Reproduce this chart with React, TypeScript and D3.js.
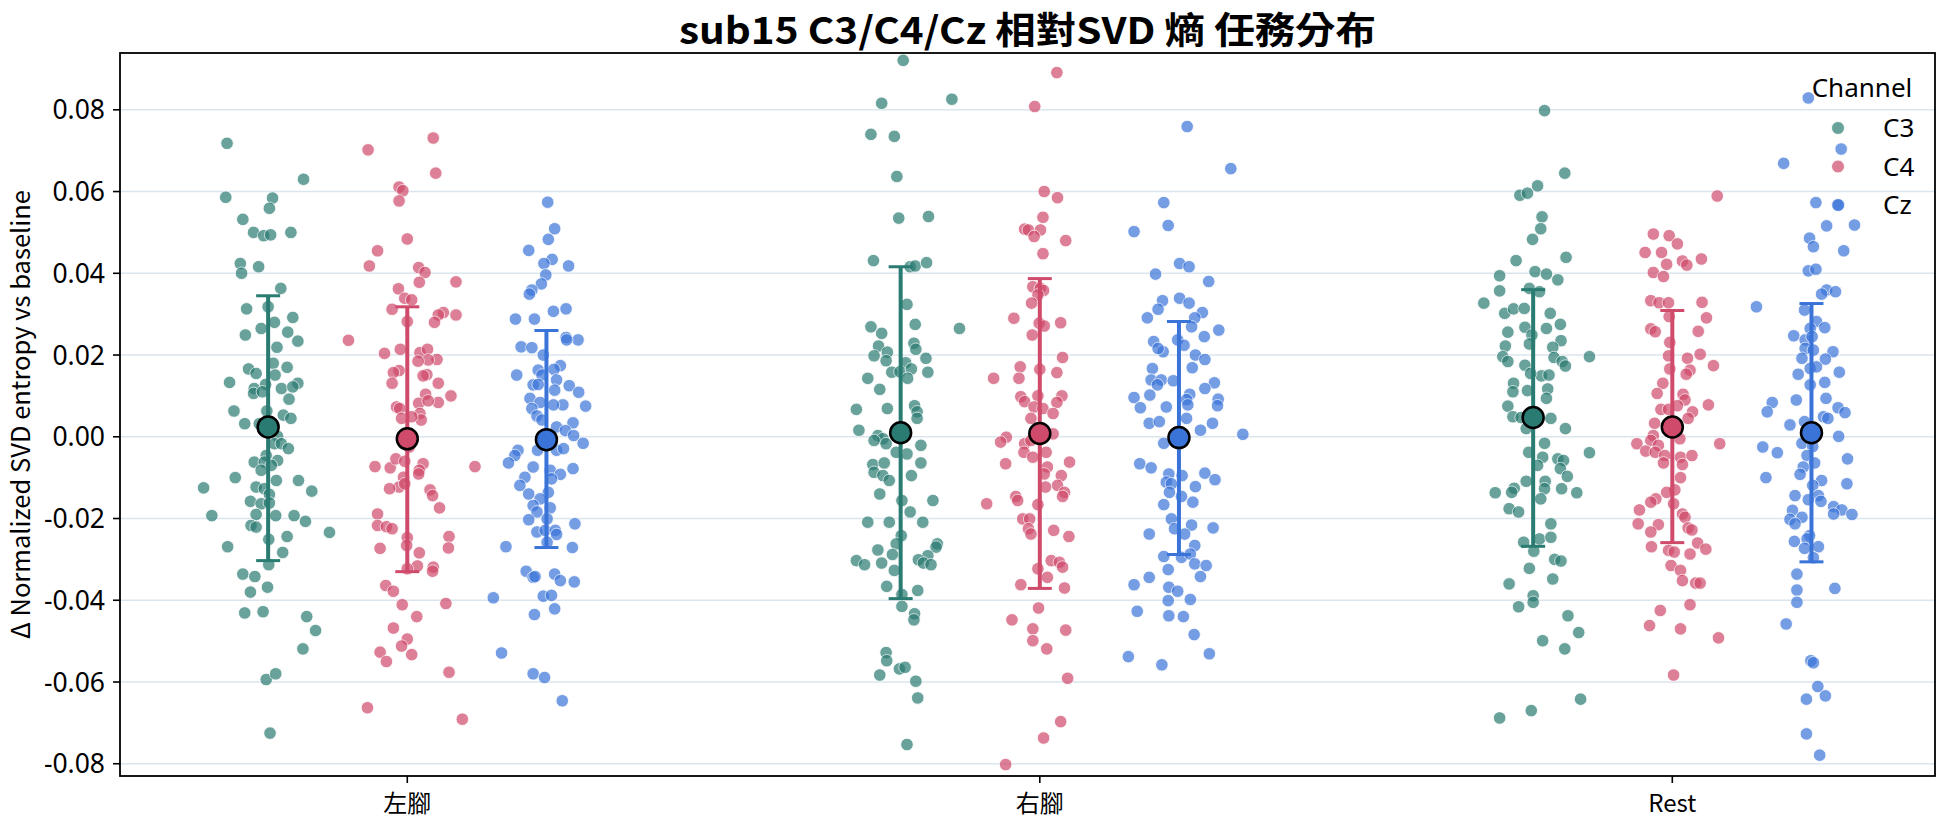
import React from "react";
import * as d3 from "d3";

const categories = ["左腳", "右腳", "Rest"];
const channels = ["C3", "C4", "Cz"];
const yTicks = [-0.08, -0.06, -0.04, -0.02, 0, 0.02, 0.04, 0.06, 0.08];
const titleText = "sub15 C3/C4/Cz 相對SVD 熵 任務分布";
const yLabel = "Δ Normalized SVD entropy vs baseline";
const legendTitle = "Channel";

// [jitter (category units), value]
const leftC3: [number, number][] = [[-0.065,0.0718],[0.056,0.0630],[-0.067,0.0586],[0.007,0.0584],[0.002,0.0559],[-0.040,0.0532],[-0.023,0.0500],[-0.007,0.0492],[0.004,0.0494],[0.036,0.0500],[-0.044,0.0424],[-0.015,0.0416],[-0.042,0.0400],[0.020,0.0363],[-0.034,0.0313],[0.000,0.0318],[0.039,0.0292],[0.010,0.0280],[-0.011,0.0265],[0.031,0.0256],[-0.036,0.0249],[0.047,0.0234],[0.014,0.0219],[0.008,0.0180],[-0.031,0.0166],[-0.019,0.0155],[0.030,0.0170],[0.011,0.0151],[-0.061,0.0133],[-0.004,0.0128],[-0.022,0.0118],[0.021,0.0118],[0.047,0.0131],[0.039,0.0122],[-0.023,0.0106],[-0.009,0.0110],[0.033,0.0092],[-0.054,0.0063],[-0.002,0.0063],[0.024,0.0053],[0.036,0.0045],[-0.037,0.0032],[-0.014,0.0032],[0.015,0.0001],[0.010,-0.0017],[0.021,-0.0017],[0.032,-0.0029],[-0.003,-0.0046],[-0.022,-0.0062],[-0.006,-0.0062],[0.015,-0.0058],[0.005,-0.0070],[-0.011,-0.0082],[-0.052,-0.0100],[0.013,-0.0107],[0.048,-0.0107],[-0.102,-0.0125],[-0.019,-0.0123],[-0.006,-0.0127],[0.069,-0.0133],[0.002,-0.0141],[-0.028,-0.0158],[-0.011,-0.0164],[0.002,-0.0162],[-0.089,-0.0193],[-0.019,-0.0190],[0.012,-0.0193],[0.041,-0.0193],[0.059,-0.0207],[-0.027,-0.0217],[-0.019,-0.0221],[0.097,-0.0234],[0.001,-0.0251],[0.030,-0.0244],[-0.064,-0.0269],[0.023,-0.0283],[0.001,-0.0313],[-0.040,-0.0336],[-0.021,-0.0342],[-0.001,-0.0368],[-0.028,-0.0380],[-0.037,-0.0431],[-0.008,-0.0428],[0.061,-0.0440],[0.075,-0.0474],[0.055,-0.0519],[-0.003,-0.0594],[0.012,-0.0580],[0.003,-0.0725]];
const leftC4: [number, number][] = [[-0.062,0.0702],[0.041,0.0731],[0.045,0.0645],[-0.013,0.0611],[-0.007,0.0602],[-0.013,0.0577],[0.000,0.0484],[-0.047,0.0455],[-0.060,0.0418],[0.018,0.0414],[0.028,0.0402],[0.077,0.0379],[0.019,0.0378],[-0.014,0.0362],[-0.004,0.0339],[0.007,0.0335],[-0.024,0.0312],[0.057,0.0304],[0.049,0.0298],[0.043,0.0280],[0.077,0.0298],[0.000,0.0282],[-0.093,0.0236],[-0.036,0.0204],[-0.011,0.0214],[0.020,0.0206],[0.032,0.0214],[0.047,0.0189],[0.033,0.0188],[0.017,0.0185],[-0.013,0.0162],[-0.022,0.0157],[0.031,0.0152],[0.025,0.0149],[-0.024,0.0131],[0.049,0.0131],[0.069,0.0100],[0.029,0.0104],[0.018,0.0082],[0.049,0.0084],[-0.017,0.0073],[-0.012,0.0069],[0.033,0.0088],[0.020,0.0057],[0.022,0.0041],[-0.009,0.0045],[0.007,0.0049],[0.003,-0.0025],[-0.051,-0.0073],[-0.027,-0.0076],[-0.018,-0.0054],[-0.004,-0.0060],[0.025,-0.0066],[0.019,-0.0082],[0.018,-0.0091],[-0.006,-0.0099],[-0.013,-0.0123],[-0.028,-0.0127],[-0.004,-0.0115],[0.036,-0.0130],[0.040,-0.0144],[0.051,-0.0174],[-0.047,-0.0189],[-0.047,-0.0217],[-0.033,-0.0220],[-0.024,-0.0225],[0.000,-0.0247],[-0.001,-0.0266],[0.066,-0.0244],[0.065,-0.0272],[-0.043,-0.0273],[0.019,-0.0284],[0.041,-0.0319],[0.040,-0.0329],[0.016,-0.0316],[0.000,-0.0323],[-0.034,-0.0364],[-0.022,-0.0378],[0.061,-0.0408],[-0.008,-0.0411],[0.015,-0.0440],[-0.022,-0.0468],[0.000,-0.0495],[-0.009,-0.0512],[0.007,-0.0533],[-0.043,-0.0527],[-0.033,-0.0550],[0.066,-0.0576],[-0.063,-0.0663],[0.087,-0.0691],[0.107,-0.0073]];
const leftCz: [number, number][] = [[0.002,0.0574],[0.013,0.0509],[0.003,0.0483],[-0.028,0.0456],[0.009,0.0434],[-0.004,0.0424],[0.035,0.0418],[-0.001,0.0396],[-0.008,0.0374],[-0.023,0.0359],[-0.027,0.0349],[0.011,0.0307],[0.031,0.0313],[-0.049,0.0288],[-0.019,0.0288],[0.031,0.0243],[0.050,0.0237],[0.032,0.0237],[-0.040,0.0220],[-0.023,0.0218],[-0.005,0.0200],[0.022,0.0174],[0.012,0.0165],[-0.013,0.0163],[-0.007,0.0151],[-0.047,0.0151],[0.016,0.0139],[0.036,0.0125],[0.051,0.0109],[-0.021,0.0127],[-0.013,0.0128],[0.013,0.0114],[0.062,0.0075],[0.026,0.0078],[-0.026,0.0094],[-0.010,0.0084],[0.011,0.0078],[-0.023,0.0069],[-0.015,0.0051],[-0.007,0.0041],[0.016,0.0024],[0.042,0.0034],[0.030,0.0015],[0.043,0.0003],[0.058,-0.0016],[-0.014,-0.0033],[0.016,-0.0033],[0.027,-0.0029],[-0.045,-0.0033],[-0.050,-0.0046],[-0.060,-0.0064],[-0.021,-0.0074],[0.042,-0.0078],[0.006,-0.0082],[0.022,-0.0092],[0.008,-0.0103],[-0.034,-0.0099],[-0.042,-0.0119],[-0.028,-0.0140],[0.003,-0.0136],[-0.010,-0.0152],[0.006,-0.0174],[-0.021,-0.0168],[-0.015,-0.0184],[-0.028,-0.0203],[0.001,-0.0201],[0.045,-0.0213],[-0.015,-0.0233],[-0.002,-0.0229],[0.014,-0.0229],[0.016,-0.0239],[0.001,-0.0258],[-0.064,-0.0269],[0.041,-0.0271],[-0.032,-0.0329],[-0.021,-0.0344],[-0.018,-0.0342],[0.013,-0.0336],[0.022,-0.0352],[0.044,-0.0355],[-0.084,-0.0394],[-0.005,-0.0390],[0.008,-0.0388],[0.013,-0.0421],[-0.019,-0.0435],[-0.071,-0.0529],[-0.021,-0.0580],[-0.003,-0.0589],[0.025,-0.0646]];
const rightC3: [number, number][] = [[0.004,0.0921],[-0.030,0.0816],[0.081,0.0826],[-0.047,0.0740],[-0.010,0.0735],[-0.006,0.0637],[-0.003,0.0535],[0.044,0.0539],[-0.043,0.0431],[0.015,0.0416],[0.023,0.0418],[0.041,0.0426],[0.010,0.0324],[-0.047,0.0269],[0.023,0.0275],[-0.030,0.0253],[0.093,0.0265],[-0.035,0.0222],[0.021,0.0229],[0.024,0.0214],[-0.021,0.0207],[-0.042,0.0198],[-0.023,0.0186],[0.040,0.0192],[0.008,0.0181],[-0.014,0.0158],[-0.001,0.0159],[0.017,0.0166],[0.043,0.0158],[-0.052,0.0143],[0.011,0.0143],[-0.033,0.0116],[-0.070,0.0067],[-0.021,0.0069],[0.022,0.0076],[0.026,0.0061],[0.026,0.0045],[-0.066,0.0016],[-0.036,0.0003],[-0.028,-0.0005],[-0.042,-0.0009],[-0.023,-0.0017],[0.032,-0.0021],[0.010,-0.0042],[-0.007,-0.0038],[-0.044,-0.0068],[-0.026,-0.0064],[0.032,-0.0064],[-0.042,-0.0087],[-0.028,-0.0095],[-0.018,-0.0107],[0.017,-0.0095],[-0.033,-0.0140],[0.002,-0.0156],[0.051,-0.0156],[0.015,-0.0184],[-0.052,-0.0209],[-0.018,-0.0209],[0.035,-0.0209],[0.001,-0.0242],[-0.007,-0.0262],[-0.036,-0.0277],[0.058,-0.0262],[0.056,-0.0270],[-0.013,-0.0288],[-0.070,-0.0303],[-0.057,-0.0313],[-0.030,-0.0309],[0.043,-0.0291],[0.028,-0.0301],[0.036,-0.0309],[0.048,-0.0313],[-0.010,-0.0327],[-0.022,-0.0366],[0.027,-0.0376],[0.002,-0.0386],[0.002,-0.0415],[0.022,-0.0433],[0.021,-0.0448],[-0.023,-0.0528],[-0.022,-0.0548],[-0.002,-0.0568],[0.007,-0.0564],[-0.033,-0.0583],[0.024,-0.0598],[0.027,-0.0639],[0.010,-0.0753]];
const rightC4: [number, number][] = [[0.027,0.0891],[-0.008,0.0808],[0.007,0.0600],[0.028,0.0585],[0.005,0.0537],[-0.024,0.0508],[-0.018,0.0506],[0.001,0.0506],[-0.009,0.0490],[0.041,0.0480],[0.005,0.0448],[-0.011,0.0367],[0.001,0.0363],[0.006,0.0358],[-0.003,0.0347],[-0.013,0.0327],[-0.041,0.0290],[-0.001,0.0278],[0.007,0.0271],[0.033,0.0279],[-0.012,0.0249],[0.036,0.0194],[-0.031,0.0171],[0.000,0.0165],[0.027,0.0157],[-0.073,0.0143],[-0.033,0.0143],[-0.030,0.0098],[-0.003,0.0100],[0.035,0.0100],[-0.024,0.0086],[0.027,0.0084],[-0.009,0.0073],[0.005,0.0069],[0.021,0.0057],[-0.014,0.0045],[-0.053,-0.0001],[-0.062,-0.0013],[-0.024,-0.0017],[-0.025,-0.0038],[-0.011,-0.0050],[0.010,-0.0038],[-0.014,-0.0009],[0.021,0.0007],[-0.054,-0.0066],[0.012,-0.0074],[0.007,-0.0091],[0.034,-0.0095],[0.028,-0.0119],[0.047,-0.0062],[0.009,-0.0123],[0.039,-0.0136],[0.036,-0.0146],[-0.038,-0.0146],[-0.035,-0.0156],[-0.003,-0.0166],[-0.084,-0.0164],[-0.027,-0.0201],[-0.016,-0.0201],[-0.018,-0.0225],[-0.014,-0.0238],[0.022,-0.0229],[0.046,-0.0244],[0.018,-0.0303],[0.031,-0.0307],[-0.003,-0.0323],[0.036,-0.0319],[0.012,-0.0344],[-0.030,-0.0362],[0.039,-0.0370],[-0.002,-0.0419],[-0.044,-0.0448],[-0.011,-0.0470],[0.041,-0.0473],[-0.011,-0.0499],[0.011,-0.0519],[0.044,-0.0591],[0.033,-0.0697],[0.006,-0.0737],[-0.054,-0.0802]];
const rightCz: [number, number][] = [[0.013,0.0759],[0.082,0.0656],[-0.024,0.0573],[-0.017,0.0517],[-0.071,0.0502],[0.001,0.0424],[0.016,0.0416],[-0.037,0.0398],[0.047,0.0380],[-0.026,0.0333],[-0.033,0.0312],[0.001,0.0339],[0.016,0.0327],[-0.050,0.0291],[0.037,0.0304],[0.025,0.0291],[0.020,0.0269],[0.063,0.0261],[0.040,0.0245],[-0.040,0.0233],[-0.002,0.0237],[0.008,0.0224],[-0.025,0.0208],[-0.033,0.0216],[0.026,0.0200],[0.041,0.0189],[0.021,0.0169],[-0.042,0.0167],[-0.044,0.0139],[-0.028,0.0139],[-0.009,0.0137],[-0.034,0.0127],[0.056,0.0132],[0.041,0.0118],[0.062,0.0092],[0.061,0.0076],[-0.071,0.0096],[-0.046,0.0102],[0.017,0.0104],[0.012,0.0091],[-0.061,0.0071],[-0.020,0.0073],[0.014,0.0078],[0.012,0.0045],[-0.047,0.0033],[-0.031,0.0037],[0.053,0.0033],[0.034,0.0016],[0.101,0.0006],[-0.024,-0.0016],[-0.062,-0.0066],[-0.044,-0.0076],[-0.016,-0.0091],[0.005,-0.0095],[0.041,-0.0089],[0.057,-0.0105],[-0.020,-0.0111],[-0.012,-0.0115],[-0.015,-0.0136],[0.004,-0.0146],[0.026,-0.0122],[0.022,-0.0160],[-0.024,-0.0166],[-0.012,-0.0201],[-0.007,-0.0225],[0.020,-0.0216],[0.054,-0.0223],[-0.047,-0.0238],[0.009,-0.0238],[0.025,-0.0266],[-0.024,-0.0293],[0.004,-0.0295],[0.018,-0.0287],[0.025,-0.0311],[0.043,-0.0315],[-0.017,-0.0325],[0.034,-0.0342],[-0.071,-0.0362],[-0.047,-0.0344],[-0.016,-0.0368],[-0.002,-0.0378],[0.018,-0.0398],[-0.017,-0.0401],[-0.066,-0.0427],[-0.016,-0.0438],[0.007,-0.0440],[0.024,-0.0484],[-0.080,-0.0538],[-0.027,-0.0558],[0.048,-0.0531]];
const restC3: [number, number][] = [[0.018,0.0798],[0.050,0.0645],[0.007,0.0614],[-0.021,0.0591],[-0.009,0.0596],[0.014,0.0538],[0.012,0.0509],[-0.001,0.0483],[0.052,0.0439],[-0.027,0.0431],[0.003,0.0404],[0.021,0.0398],[-0.053,0.0394],[0.039,0.0384],[-0.053,0.0357],[-0.006,0.0363],[0.010,0.0355],[-0.078,0.0327],[-0.045,0.0302],[-0.031,0.0313],[-0.014,0.0314],[0.027,0.0302],[0.043,0.0275],[-0.040,0.0256],[-0.013,0.0268],[0.021,0.0265],[-0.002,0.0249],[0.044,0.0235],[-0.044,0.0222],[-0.006,0.0227],[0.031,0.0219],[-0.048,0.0196],[-0.040,0.0184],[0.033,0.0194],[0.046,0.0184],[0.051,0.0173],[0.089,0.0196],[-0.013,0.0175],[0.013,0.0149],[0.025,0.0151],[-0.004,0.0155],[-0.031,0.0131],[-0.032,0.0110],[-0.009,0.0113],[0.023,0.0117],[0.021,0.0094],[-0.040,0.0075],[-0.032,0.0049],[-0.019,0.0047],[0.028,0.0045],[0.051,0.0020],[-0.011,0.0020],[0.018,-0.0016],[-0.007,-0.0038],[0.089,-0.0039],[0.015,-0.0050],[0.039,-0.0054],[0.048,-0.0058],[0.007,-0.0070],[0.043,-0.0078],[0.054,-0.0097],[-0.011,-0.0109],[0.019,-0.0109],[0.018,-0.0127],[-0.030,-0.0126],[-0.034,-0.0136],[-0.060,-0.0137],[0.045,-0.0127],[0.069,-0.0137],[0.012,-0.0152],[-0.038,-0.0176],[-0.023,-0.0184],[0.028,-0.0213],[0.010,-0.0250],[0.028,-0.0246],[-0.015,-0.0258],[0.001,-0.0280],[0.034,-0.0300],[0.044,-0.0304],[-0.006,-0.0322],[0.031,-0.0348],[-0.038,-0.0360],[0.000,-0.0389],[0.000,-0.0405],[-0.023,-0.0416],[0.055,-0.0438],[0.072,-0.0479],[0.015,-0.0499],[0.050,-0.0519],[0.075,-0.0642],[-0.003,-0.0670],[-0.053,-0.0688]];
const restC4: [number, number][] = [[0.071,0.0589],[-0.030,0.0496],[-0.005,0.0492],[0.008,0.0472],[-0.043,0.0451],[-0.017,0.0451],[0.046,0.0435],[0.016,0.0430],[0.023,0.0420],[-0.009,0.0422],[-0.030,0.0402],[-0.014,0.0392],[-0.034,0.0333],[-0.021,0.0328],[-0.006,0.0328],[0.047,0.0329],[-0.005,0.0294],[0.054,0.0291],[-0.034,0.0264],[-0.027,0.0257],[0.041,0.0258],[-0.004,0.0231],[0.044,0.0202],[-0.006,0.0198],[0.024,0.0192],[0.065,0.0174],[-0.004,0.0166],[0.028,0.0163],[0.022,0.0153],[-0.015,0.0131],[-0.024,0.0106],[0.017,0.0104],[0.020,0.0090],[0.057,0.0078],[-0.018,0.0067],[-0.006,0.0067],[0.008,0.0076],[0.032,0.0061],[0.025,0.0045],[-0.028,0.0033],[-0.030,0.0003],[-0.034,-0.0009],[-0.056,-0.0017],[-0.022,-0.0021],[0.012,-0.0005],[-0.042,-0.0035],[-0.027,-0.0038],[-0.012,-0.0046],[0.013,-0.0050],[0.031,-0.0046],[-0.014,-0.0064],[0.016,-0.0068],[0.013,-0.0100],[0.004,-0.0130],[-0.009,-0.0136],[-0.026,-0.0152],[-0.034,-0.0160],[0.002,-0.0164],[-0.052,-0.0179],[0.016,-0.0189],[0.020,-0.0197],[-0.054,-0.0213],[-0.022,-0.0215],[-0.034,-0.0233],[0.025,-0.0223],[0.031,-0.0228],[0.040,-0.0260],[0.053,-0.0275],[-0.033,-0.0269],[-0.006,-0.0278],[0.003,-0.0282],[0.028,-0.0287],[-0.002,-0.0315],[0.013,-0.0327],[0.016,-0.0352],[0.037,-0.0358],[0.044,-0.0358],[0.028,-0.0411],[-0.019,-0.0425],[-0.036,-0.0462],[0.013,-0.0470],[0.073,-0.0492],[0.002,-0.0583],[0.075,-0.0017]];
const restCz: [number, number][] = [[-0.005,0.0829],[-0.044,0.0669],[0.047,0.0704],[0.007,0.0573],[0.043,0.0567],[0.024,0.0516],[0.068,0.0518],[-0.003,0.0486],[0.003,0.0465],[0.051,0.0455],[-0.005,0.0406],[0.007,0.0410],[0.024,0.0359],[0.016,0.0349],[0.038,0.0355],[-0.087,0.0318],[-0.011,0.0310],[0.008,0.0282],[0.021,0.0267],[-0.028,0.0247],[-0.002,0.0265],[-0.010,0.0237],[0.001,0.0245],[0.034,0.0208],[-0.010,0.0216],[0.003,0.0212],[0.022,0.0190],[-0.015,0.0192],[-0.021,0.0153],[-0.002,0.0167],[0.008,0.0171],[0.044,0.0158],[0.021,0.0133],[-0.002,0.0127],[0.023,0.0094],[-0.024,0.0090],[-0.062,0.0084],[-0.070,0.0061],[0.042,0.0071],[0.053,0.0059],[0.019,0.0049],[-0.034,0.0029],[-0.011,0.0037],[0.026,0.0045],[0.043,0.0001],[-0.015,-0.0016],[0.002,-0.0024],[-0.077,-0.0025],[-0.054,-0.0039],[0.057,-0.0054],[-0.007,-0.0046],[0.005,-0.0064],[-0.013,-0.0074],[-0.018,-0.0092],[-0.072,-0.0100],[0.016,-0.0107],[0.002,-0.0119],[0.056,-0.0115],[-0.026,-0.0144],[0.011,-0.0144],[-0.005,-0.0154],[0.015,-0.0158],[0.035,-0.0171],[0.048,-0.0179],[0.064,-0.0190],[0.035,-0.0189],[-0.030,-0.0180],[-0.034,-0.0202],[-0.015,-0.0197],[-0.026,-0.0213],[-0.003,-0.0242],[-0.027,-0.0256],[-0.007,-0.0250],[0.011,-0.0269],[-0.011,-0.0273],[0.003,-0.0296],[-0.023,-0.0336],[0.037,-0.0371],[-0.023,-0.0375],[-0.023,-0.0405],[-0.040,-0.0458],[-0.001,-0.0548],[0.003,-0.0553],[0.010,-0.0611],[0.022,-0.0634],[-0.008,-0.0642],[-0.008,-0.0727],[0.013,-0.0779]];

const stripsByCategory = [
  [leftC3, leftC4, leftCz],
  [rightC3, rightC4, rightCz],
  [restC3, restC4, restCz],
];

// mean and error-bar ends per category, channel order C3, C4, Cz
const meanLeft = [0.0024, -0.0005, -0.0007];
const lowLeft = [-0.0303, -0.0330, -0.0271];
const highLeft = [0.0345, 0.0318, 0.0260];
const meanRight = [0.0010, 0.0008, -0.0002];
const lowRight = [-0.0396, -0.0371, -0.0288];
const highRight = [0.0416, 0.0387, 0.0282];
const meanRest = [0.0047, 0.0024, 0.0010];
const lowRest = [-0.0268, -0.0259, -0.0306];
const highRest = [0.0360, 0.0309, 0.0326];
const meansByCategory = [meanLeft, meanRight, meanRest];
const lowsByCategory = [lowLeft, lowRight, lowRest];
const highsByCategory = [highLeft, highRight, highRest];

const channelColors = ["#2a7b72", "#cf4a6b", "#3a74d9"];
const dodge = [-0.22, 0, 0.22];

const W = 1944;
const H = 827;
const plotL = 120;
const plotR = 1935;
const plotT = 53;
const plotB = 776;

const FONT = "'Noto Sans', 'Noto Sans CJK TC', sans-serif";
const CJK = "'Noto Sans CJK TC', 'Noto Sans', sans-serif";

export default function App() {
  const x = d3.scaleLinear().domain([-0.4542, 2.4153]).range([plotL, plotR]);
  const y = d3.scaleLinear().domain([-0.0830, 0.0939]).range([plotB, plotT]);
  const fmt = (t: number) => d3.format(".2f")(t).replace("\u2212", "-");

  return (
    <svg
      width={W}
      height={H}
      viewBox={`0 0 ${W} ${H}`}
      style={{ position: "absolute", left: 0, top: 0, display: "block", background: "#fff" }}
    >
      <rect x={0} y={0} width={W} height={H} fill="#fff" />
      <text
        x={(plotL + plotR) / 2}
        y={44}
        textAnchor="middle"
        fontFamily={CJK}
        fontWeight="bold"
        fontSize={37}
        fill="#000"
        textLength={697}
        lengthAdjust="spacingAndGlyphs"
      >
        {titleText}
      </text>

      {/* gridlines */}
      <g>
        {yTicks.map((t) => (
          <line key={t} x1={plotL} x2={plotR} y1={y(t)} y2={y(t)} stroke="#dbe5ee" strokeWidth={1.6} />
        ))}
      </g>

      {/* strips */}
      {stripsByCategory.map((strips, ci) =>
        strips.map((pts, hi) => (
          <g key={`s${ci}-${hi}`}>
            {pts.map(([j, v], k) => (
              <circle
                key={k}
                cx={x(ci + dodge[hi] + j)}
                cy={y(v)}
                r={6.3}
                fill={channelColors[hi]}
                stroke="#fff"
                strokeWidth={0.9}
                opacity={0.7}
              />
            ))}
          </g>
        ))
      )}

      {/* error bars + means */}
      {categories.map((_, ci) =>
        channels.map((_, hi) => {
          const cx = x(ci + dodge[hi]);
          const lo = lowsByCategory[ci][hi];
          const hiV = highsByCategory[ci][hi];
          const m = meansByCategory[ci][hi];
          const col = channelColors[hi];
          return (
            <g key={`e${ci}-${hi}`}>
              <line x1={cx} x2={cx} y1={y(lo)} y2={y(hiV)} stroke={col} strokeWidth={4} />
              <line x1={cx - 12} x2={cx + 12} y1={y(lo)} y2={y(lo)} stroke={col} strokeWidth={3} />
              <line x1={cx - 12} x2={cx + 12} y1={y(hiV)} y2={y(hiV)} stroke={col} strokeWidth={3} />
              <circle cx={cx} cy={y(m)} r={10.5} fill={col} stroke="#000" strokeWidth={2.5} />
            </g>
          );
        })
      )}

      {/* y axis */}
      <g>
        {yTicks.map((t) => (
          <g key={t}>
            <line x1={plotL - 7} x2={plotL} y1={y(t)} y2={y(t)} stroke="#000" strokeWidth={1.6} />
            <text
              x={plotL - 15}
              y={y(t)}
              dy="0.36em"
              textAnchor="end"
              fontFamily={FONT}
              fontSize={26.5}
              fill="#000"
            >
              {fmt(t)}
            </text>
          </g>
        ))}
      </g>
      <text
        transform={`translate(30, ${(plotT + plotB) / 2}) rotate(-90)`}
        textAnchor="middle"
        fontFamily={CJK}
        fontSize={25}
        fill="#000"
        textLength={449}
        lengthAdjust="spacingAndGlyphs"
      >
        {yLabel}
      </text>

      {/* x axis */}
      <g>
        {categories.map((c, ci) => (
          <g key={c}>
            <line x1={x(ci)} x2={x(ci)} y1={plotB} y2={plotB + 7} stroke="#000" strokeWidth={1.6} />
            <text x={x(ci)} y={plotB + 36} textAnchor="middle" fontFamily={CJK} fontSize={24} fill="#000">
              {c}
            </text>
          </g>
        ))}
      </g>

      {/* frame */}
      <rect x={plotL} y={plotT} width={plotR - plotL} height={plotB - plotT} fill="none" stroke="#000" strokeWidth={1.8} />

      {/* legend */}
      <g>
        <text x={1862} y={97} textAnchor="middle" fontFamily={FONT} fontSize={26} fill="#000">
          {legendTitle}
        </text>
        {channels.map((c, hi) => (
          <g key={c}>
            <circle cx={1838} cy={128 + hi * 38.5} r={6.5} fill={channelColors[hi]} stroke="#fff" strokeWidth={0.9} opacity={0.7} />
            <text x={1883} y={128 + hi * 38.5} dy="0.35em" fontFamily={FONT} fontSize={26} fill="#000">
              {c}
            </text>
          </g>
        ))}
      </g>
    </svg>
  );
}
